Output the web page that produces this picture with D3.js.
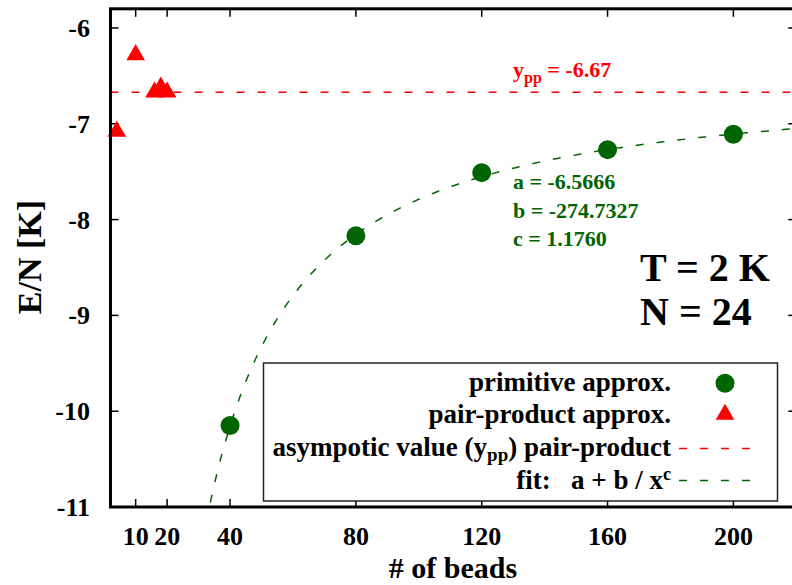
<!DOCTYPE html>
<html>
<head>
<meta charset="utf-8">
<script src="https://cdn.jsdelivr.net/npm/d3@7/dist/d3.min.js"></script>
<style>
  html, body { margin: 0; padding: 0; background: #fff; }
  svg { display: block; }
  svg text { font-family: "Liberation Serif", "DejaVu Serif", "Times New Roman", Times, serif; font-weight: bold; }
  .tick-label { font-size: 26px; }
</style>
</head>
<body>
<div id="chart"></div>
<script>
// primitive approximation (green circles)
const primBeads = [40, 80, 120, 160, 200];
const primEnergy = [-10.15, -8.17, -7.51, -7.27, -7.11];

// pair-product approximation (red triangles)
const ppBeads = [4, 10, 16, 18, 20];
const ppEnergy = [-7.08, -6.28, -6.67, -6.62, -6.67];

// asymptotic value of pair-product
const ypp = -6.67;

// fit a + b / x^c
const fitA = -6.5666;
const fitB = -274.7327;
const fitC = 1.1760;

const xTicks = [10, 20, 40, 80, 120, 160, 200];
const yTicks = [-6, -7, -8, -9, -10, -11];

const width = 792, height = 585;
const margin = { top: 8.8, right: -4.3, bottom: 78, left: 110.5 };

const x = d3.scaleLinear().domain([2, 220]).range([margin.left, width - margin.right]);
const y = d3.scaleLinear().domain([-11, -5.8]).range([height - margin.bottom, margin.top]);

const svg = d3.select("#chart").append("svg")
  .attr("width", width)
  .attr("height", height);

svg.append("defs").append("clipPath").attr("id", "clip")
  .append("rect")
  .attr("x", x(2)).attr("y", y(-5.8))
  .attr("width", x(220) - x(2)).attr("height", y(-11) - y(-5.8));

const green = "#006400", red = "#ff0000";
const dash = "8,13";

// ticks (inward on all four sides)
const tickLen = 8;
const ticks = svg.append("g").attr("stroke", "#000").attr("stroke-width", 1.5);
xTicks.forEach(t => {
  ticks.append("line").attr("x1", x(t)).attr("x2", x(t)).attr("y1", y(-11)).attr("y2", y(-11) - tickLen);
  ticks.append("line").attr("x1", x(t)).attr("x2", x(t)).attr("y1", y(-5.8)).attr("y2", y(-5.8) + tickLen);
});
yTicks.forEach(t => {
  ticks.append("line").attr("x1", x(2)).attr("x2", x(2) + tickLen).attr("y1", y(t)).attr("y2", y(t));
  ticks.append("line").attr("x1", x(220)).attr("x2", x(220) - tickLen).attr("y1", y(t)).attr("y2", y(t));
});

// tick labels
svg.append("g").selectAll("text").data(xTicks).join("text")
  .attr("class", "tick-label")
  .attr("x", d => x(d)).attr("y", 545)
  .attr("text-anchor", "middle")
  .text(d => d);
svg.append("g").selectAll("text").data(yTicks).join("text")
  .attr("class", "tick-label")
  .attr("x", 90).attr("y", d => y(d) + 9)
  .attr("text-anchor", "end")
  .text(d => d);

// axis titles
svg.append("text")
  .attr("x", 453).attr("y", 578)
  .attr("text-anchor", "middle")
  .attr("font-size", 30)
  .text("# of beads");
svg.append("text")
  .attr("transform", "translate(41," + 257 + ") rotate(-90)")
  .attr("text-anchor", "middle")
  .attr("font-size", 34)
  .text("E/N [K]");

const plot = svg.append("g").attr("clip-path", "url(#clip)");

// asymptotic line
plot.append("line")
  .attr("x1", x(2)).attr("x2", x(220))
  .attr("y1", y(ypp)).attr("y2", y(ypp))
  .attr("stroke", red).attr("stroke-width", 1.5)
  .attr("stroke-dasharray", dash);

// fit curve, evaluated from the fitted parameters
const fitXs = d3.range(30, 221, 1);
const fitLine = d3.line()
  .x(d => x(d))
  .y(d => y(fitA + fitB / Math.pow(d, fitC)));
plot.append("path")
  .datum(fitXs)
  .attr("d", fitLine)
  .attr("fill", "none")
  .attr("stroke", green).attr("stroke-width", 1.5)
  .attr("stroke-dasharray", dash);

// points
const triangle = d3.symbol().type(d3.symbolTriangle).size(150);
svg.append("g").selectAll("path").data(ppBeads).join("path")
  .attr("d", triangle)
  .attr("transform", (d, i) => "translate(" + x(d) + "," + y(ppEnergy[i]) + ")")
  .attr("fill", red);

svg.append("g").selectAll("circle").data(primBeads).join("circle")
  .attr("cx", d => x(d)).attr("cy", (d, i) => y(primEnergy[i]))
  .attr("r", 9.5)
  .attr("fill", green);

// annotations
const yppLabel = svg.append("text").attr("x", 513).attr("y", 77).attr("fill", red).attr("font-size", 22);
yppLabel.append("tspan").text("y");
yppLabel.append("tspan").attr("font-size", 16).attr("dy", 6).text("pp");
yppLabel.append("tspan").attr("dy", -6).text(" = " + ypp.toFixed(2));

const fitLabels = ["a = " + fitA.toFixed(4), "b = " + fitB.toFixed(4), "c = " + fitC.toFixed(4)];
svg.append("g").selectAll("text").data(fitLabels).join("text")
  .attr("x", 513).attr("y", (d, i) => 189 + i * 28.5)
  .attr("fill", green).attr("font-size", 22)
  .text(d => d);

svg.append("text").attr("x", 640).attr("y", 281).attr("font-size", 40).text("T = 2 K");
svg.append("text").attr("x", 640).attr("y", 325).attr("font-size", 40).text("N = 24");

// legend
const lg = svg.append("g");
lg.append("rect")
  .attr("x", 263.5).attr("y", 363)
  .attr("width", 514).attr("height", 138)
  .attr("fill", "#fff").attr("stroke", "#222").attr("stroke-width", 1.5);

const rowY = [383.3, 414.5, 448.4, 480.6];
const textX = 671;
const symX = 725;

function legendText(i) {
  return lg.append("text").attr("x", textX).attr("y", rowY[i] + 8)
    .attr("text-anchor", "end").attr("font-size", 27);
}
legendText(0).text("primitive approx.");
legendText(1).text("pair-product approx.");
const t2 = legendText(2);
t2.append("tspan").text("asympotic value (y");
t2.append("tspan").attr("font-size", 19).attr("dy", 5).text("pp");
t2.append("tspan").attr("dy", -5).text(") pair-product");
const t3 = legendText(3);
t3.append("tspan").text("fit:\u00a0\u00a0\u00a0a + b / x");
t3.append("tspan").attr("font-size", 18).attr("dy", -9).text("c");

lg.append("circle").attr("cx", symX).attr("cy", rowY[0]).attr("r", 9.5).attr("fill", green);
lg.append("path").attr("d", triangle).attr("transform", "translate(" + symX + "," + rowY[1] + ")").attr("fill", red);
lg.append("line").attr("x1", 679).attr("x2", 762).attr("y1", rowY[2]).attr("y2", rowY[2])
  .attr("stroke", red).attr("stroke-width", 1.5).attr("stroke-dasharray", dash);
lg.append("line").attr("x1", 679).attr("x2", 762).attr("y1", rowY[3]).attr("y2", rowY[3])
  .attr("stroke", green).attr("stroke-width", 1.5).attr("stroke-dasharray", dash);

// border on top
svg.append("rect")
  .attr("x", x(2)).attr("y", y(-5.8))
  .attr("width", x(220) - x(2)).attr("height", y(-11) - y(-5.8))
  .attr("fill", "none").attr("stroke", "#000").attr("stroke-width", 3);
</script>
</body>
</html>
